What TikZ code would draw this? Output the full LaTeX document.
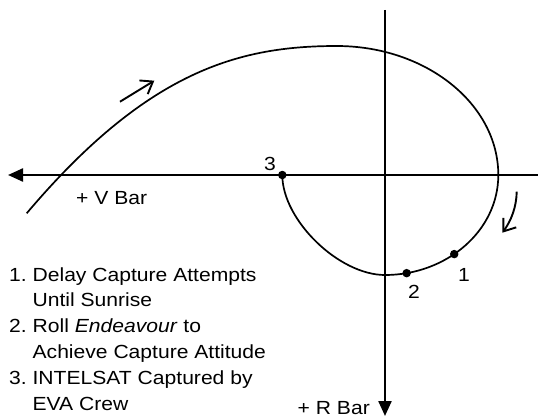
\documentclass[tikz,border=0pt]{standalone}
\usepackage{fontspec}
\setmainfont{Liberation Sans}[FakeStretch=1.11]
\usetikzlibrary{arrows.meta, positioning}

\tikzset{
  axis/.style={line width=2.3pt, -{Triangle[length=15pt, width=13pt]}},
  track/.style={line width=1.7pt},
  motion/.style={line width=1.9pt, -{Straight Barb[length=11pt, width=16pt]}},
  dot/.style={circle, fill, inner sep=0pt, minimum size=8.5pt},
  lbl/.style={font=\fontsize{19}{25.8}\selectfont, inner sep=0pt},
}

\begin{document}
\begin{tikzpicture}[x=1pt, y=-1pt]
\useasboundingbox (0,0) rectangle (538,417);

% Axes
\coordinate (vtop) at (385,10);
\coordinate (rbar) at (385,416);
\coordinate (vright) at (538,175);
\coordinate (vbar) at (8,175);
\draw[axis] (vtop) -- (rbar);
\draw[axis] (vright) -- (vbar);

% Approach trajectory
\coordinate (start) at (26.7,213.3);
\coordinate (apex) at (336.7,46);
\coordinate (far) at (498.3,175);
\coordinate (low) at (385,275);
\node[dot] (p3) at (282.3,175) {};
\draw[track] (start) .. controls (148,70) and (240,46) .. (apex)
  .. controls (426,46) and (498.3,104) .. (far)
  .. controls (498.3,231) and (446.5,275) .. (low)
  node[dot, pos=0.58] (p1) {}
  node[dot, pos=0.88] (p2) {}
  .. controls (338.8,275) and (282.3,220) .. (p3.center);

% Direction of motion
\coordinate (up1) at (120,101.7);
\coordinate (up2) at (154.3,80.7);
\draw[motion] (up1) -- (up2);
\coordinate (dn1) at (516.7,191.7);
\coordinate (dn2) at (502.3,232.7);
\draw[motion] (dn1) .. controls (516.5,207) and (511,221) .. (dn2);

% Labels
\node[lbl, anchor=base] (n3) at (270,170) {3};
\node[lbl, anchor=base] (n1) at (464,281) {1};
\node[lbl, anchor=base] (n2) at (414,298.3) {2};
\node[lbl, anchor=base west] (vlabel) at (76,204) {+ V Bar};
\node[lbl, anchor=base east] (rlabel) at (370,414) {+ R Bar};

\node[lbl, anchor=base west] (steps) at (9,281) {%
  \begin{tabular}[t]{@{}l@{\ }l@{}}
  1. & Delay Capture Attempts\\
     & Until Sunrise\\
  2. & Roll \textit{Endeavour} to\\
     & Achieve Capture Attitude\\
  3. & INTELSAT Captured by\\
     & EVA Crew
  \end{tabular}};

\end{tikzpicture}
\end{document}
